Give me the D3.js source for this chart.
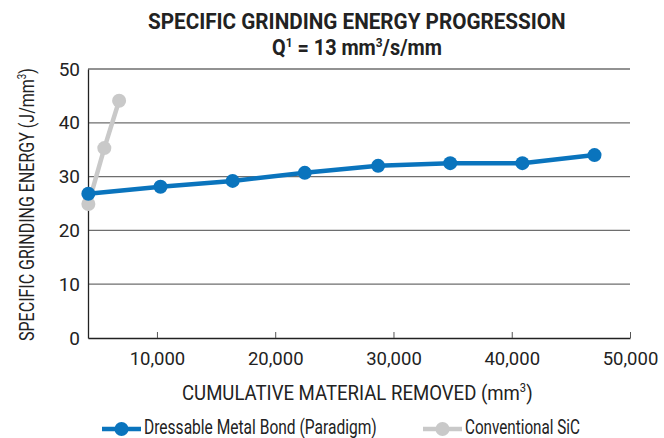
<!DOCTYPE html>
<html><head><meta charset="utf-8">
<script src="https://cdn.jsdelivr.net/npm/d3@7"></script>
<style>
body{margin:0;background:#fff;}
text{font-family:"Roboto","Liberation Sans",sans-serif;fill:#222;}
</style></head>
<body><svg id="c" width="664" height="438"></svg>
<script>
const seriesNames = ["Dressable Metal Bond (Paradigm)", "Conventional SiC"];
const paradigmX = [4200, 10300, 16400, 22500, 28700, 34800, 40900, 47000];
const paradigmY = [26.8, 28.1, 29.2, 30.7, 32.0, 32.5, 32.5, 34.0];
const sicX = [4200, 5550, 6800];
const sicY = [24.9, 35.3, 44.1];
const xTicks = [10000, 20000, 30000, 40000, 50000];
const yTicks = [0, 10, 20, 30, 40, 50];
const colors = ["#0a74bd", "#c9c9c9"];

const svg = d3.select("#c");
const m = {l:88, r:630, t:69, b:338};
const x = d3.scaleLinear().domain([4170, 50000]).range([m.l, m.r]);
const y = d3.scaleLinear().domain([0, 50]).range([m.b, m.t]);

// helper: text squeezed horizontally to a target width (condensed look)
// parts: array of [string, raised(0/1)]
function fitText(parent, parts, size, weight, x0, x1, yb, rotate) {
  const g = parent.append("g");
  const t = g.append("text").attr("x", 0).attr("y", 0)
    .style("font-size", size + "px").style("font-weight", weight);
  let raised = 0;
  parts.forEach(p => {
    const ts = t.append("tspan");
    const want = p[1] ? 1 : 0;
    if (want !== raised) { ts.attr("dy", want ? -size*0.38 : size*0.38); raised = want; }
    if (want) ts.style("font-size", (size*0.6) + "px");
    ts.text(p[0]);
  });
  const w = t.node().getBBox().width;
  const s = (x1 - x0) / w;
  if (rotate) g.attr("transform", `translate(${yb},${x1}) rotate(-90) scale(${s},1)`);
  else g.attr("transform", `translate(${x0},${yb}) scale(${s},1)`);
  return g;
}

// gridlines
svg.append("g").selectAll("line").data(yTicks.filter(d=>d>0)).join("line")
  .attr("x1", m.l).attr("x2", m.r).attr("y1", d=>y(d)).attr("y2", d=>y(d))
  .attr("stroke", "#6e6e6e").attr("stroke-width", 1.3);

// y axis
const ya = svg.append("g").attr("transform", `translate(${m.l},0)`)
  .call(d3.axisLeft(y).tickValues(yTicks).tickSize(0).tickPadding(8));
ya.select(".domain").attr("stroke", "#222").attr("stroke-width", 1.3);
ya.selectAll("text").style("font-size", "19px").attr("fill", "#222");

// x axis
const xa = svg.append("g").attr("transform", `translate(0,${m.b})`)
  .call(d3.axisBottom(x).tickValues(xTicks).tickSizeInner(-6).tickSizeOuter(0).tickPadding(14).tickFormat(d3.format(",")));
xa.select(".domain").attr("stroke", "#222").attr("stroke-width", 1.3);
xa.selectAll(".tick line").attr("stroke", "#555");
xa.selectAll("text").style("font-size", "18.5px").attr("fill", "#222");

// titles
fitText(svg, [["SPECIFIC GRINDING ENERGY PROGRESSION",0]], 21.5, "bold", 148, 566, 28.5);
fitText(svg, [["Q",0],["1",1],[" = 13 mm",0],["3",1],["/s/mm",0]], 21.5, "bold", 272, 442, 55);

// axis titles
fitText(svg, [["SPECIFIC GRINDING ENERGY (J/mm",0],["3",1],[")",0]], 20, "normal", 68, 341, 34, true);
fitText(svg, [["CUMULATIVE MATERIAL REMOVED (mm",0],["3",1],[")",0]], 20.5, "normal", 182, 533, 399.5);

// series
const series = [
  {xs: paradigmX, ys: paradigmY, c: colors[0]},
  {xs: sicX, ys: sicY, c: colors[1]}
];
const line = d3.line().x(d=>x(d[0])).y(d=>y(d[1]));
[series[1], series[0]].forEach(s=>{
  const pts = s.xs.map((v,i)=>[v, s.ys[i]]);
  svg.append("path").datum(pts).attr("d", line).attr("fill", "none")
    .attr("stroke", s.c).attr("stroke-width", 4.5).attr("stroke-linejoin", "round");
  svg.append("g").selectAll("circle").data(pts).join("circle")
    .attr("cx", d=>x(d[0])).attr("cy", d=>y(d[1])).attr("r", 7).attr("fill", s.c);
});

// legend
const leg = [{x:102, t:seriesNames[0], c:colors[0], x1:377}, {x:423, t:seriesNames[1], c:colors[1], x1:580}];
leg.forEach(l=>{
  const g = svg.append("g");
  g.append("line").attr("x1", l.x).attr("x2", l.x+39).attr("y1", 429).attr("y2", 429)
    .attr("stroke", l.c).attr("stroke-width", 4.5);
  g.append("circle").attr("cx", l.x+19.5).attr("cy", 429).attr("r", 7).attr("fill", l.c);
  fitText(g, [[l.t,0]], 19.5, "normal", l.x+42, l.x1, 433.5);
});
</script></body></html>
